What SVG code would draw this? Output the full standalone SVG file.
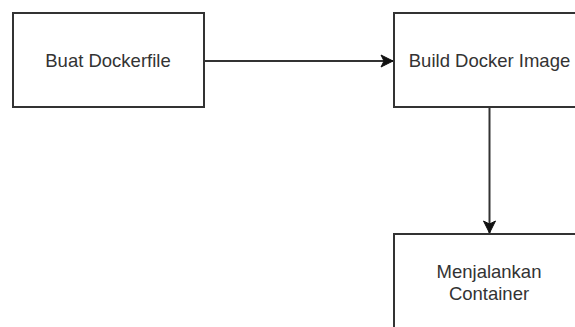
<svg xmlns="http://www.w3.org/2000/svg" width="575" height="327" viewBox="0 0 575 327">
  <defs>
    <style>
      .box { fill: #ffffff; stroke: #333333; stroke-width: 2; }
      .lbl { font-family: "Liberation Sans", Arial, sans-serif; font-size: 18.5px; fill: #333333; text-anchor: middle; }
      .edge { fill: none; stroke: #333333; stroke-width: 2; }
    </style>
    <marker id="arrow" markerUnits="userSpaceOnUse" markerWidth="14" markerHeight="14" viewBox="0 0 14 14" refX="13" refY="7" orient="auto">
      <path d="M1,1 L13,7 L1,13 L4,7 Z" fill="#111111" stroke="#111111" stroke-width="1"/>
    </marker>
  </defs>
  <rect width="575" height="327" fill="#ffffff"/>
  <g id="connectors">
    <path class="edge" d="M204,61 L393,61" marker-end="url(#arrow)"/>
    <path class="edge" d="M489.5,107 L489.5,233" marker-end="url(#arrow)"/>
  </g>
  <g id="node-buat-dockerfile">
    <rect class="box" x="13" y="13" width="191" height="94"/>
    <text class="lbl" x="108" y="66.5">Buat Dockerfile</text>
  </g>
  <g id="node-build-docker-image">
    <rect class="box" x="394" y="13" width="191" height="94"/>
    <text class="lbl" x="489.5" y="66.5">Build Docker Image</text>
  </g>
  <g id="node-menjalankan-container">
    <rect class="box" x="394" y="234" width="191" height="100"/>
    <text class="lbl" x="489" y="278">Menjalankan</text>
    <text class="lbl" x="489" y="300">Container</text>
  </g>
</svg>
